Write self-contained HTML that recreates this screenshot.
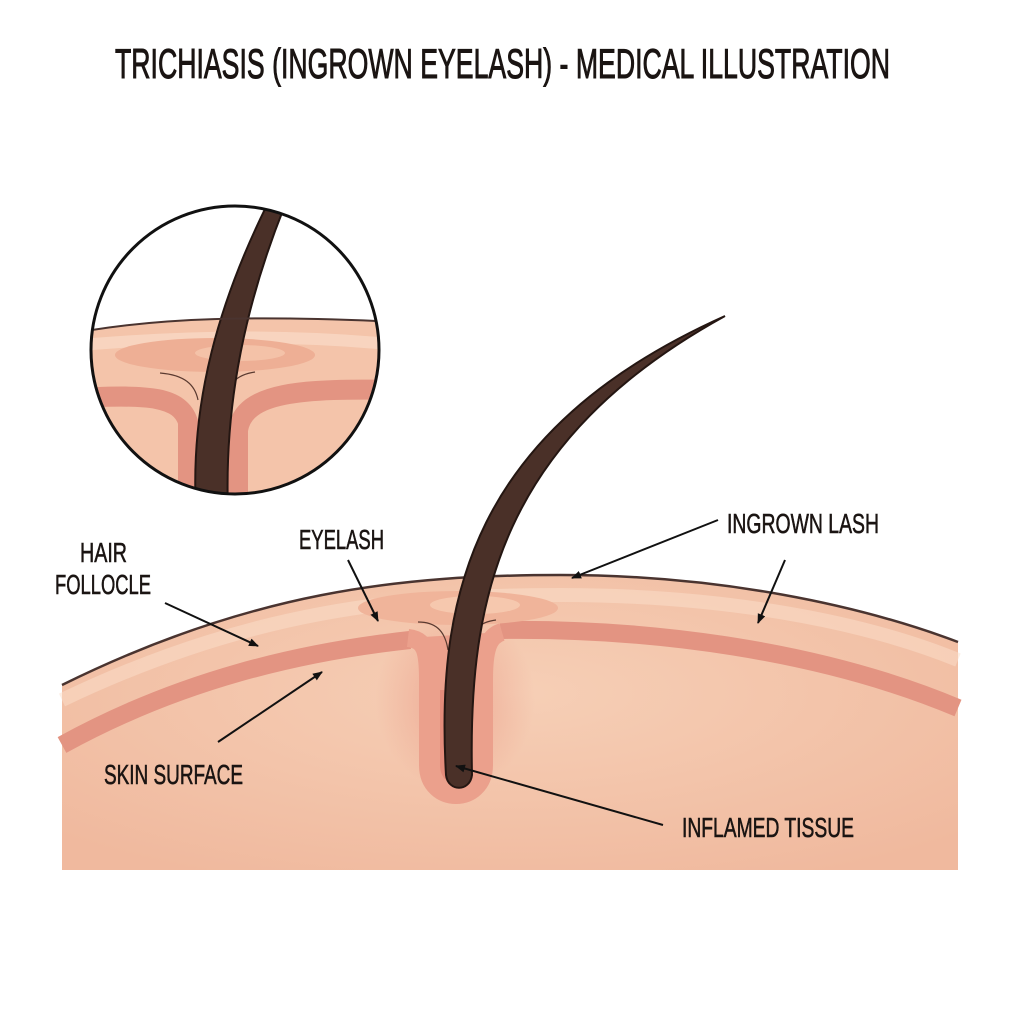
<!DOCTYPE html>
<html><head><meta charset="utf-8"><style>
html,body{margin:0;padding:0;background:#fff;}
svg{display:block;}
text{font-family:"Liberation Sans",sans-serif;fill:#1a1412;stroke:#1a1412;stroke-width:0.6;}
</style></head><body>
<svg width="1024" height="1024" viewBox="0 0 1024 1024" xmlns="http://www.w3.org/2000/svg">
<defs>
<radialGradient id="sk" cx="0.5" cy="0.4" r="0.7">
<stop offset="0" stop-color="#f6cfb6"/><stop offset="1" stop-color="#f0b99e"/>
</radialGradient>
<radialGradient id="inf" cx="0.5" cy="0.5" r="0.5">
<stop offset="0" stop-color="#e8907e" stop-opacity="0.6"/><stop offset="1" stop-color="#e8907e" stop-opacity="0"/>
</radialGradient>
<marker id="ah" markerWidth="10" markerHeight="10" refX="9" refY="5" orient="auto" markerUnits="userSpaceOnUse">
<path d="M0,1 L10,5 L0,9 Z" fill="#111"/>
</marker>
<clipPath id="cc"><circle cx="235" cy="350" r="144"/></clipPath>
</defs>

<text x="115" y="78" font-size="42" textLength="775" lengthAdjust="spacingAndGlyphs" style="stroke-width:1">TRICHIASIS (INGROWN EYELASH) - MEDICAL ILLUSTRATION</text>

<!-- main skin -->
<path d="M62,685 C250,592 400,575 560,575 C720,575 860,605 958,642 L958,870 L62,870 Z" fill="url(#sk)"/>
<path d="M62,700 C250,610 400,595 560,595 C720,595 860,620 958,660" fill="none" stroke="#fbe0cc" stroke-width="14" opacity="0.5"/>
<!-- dark band -->
<path d="M62,745 C180,680 300,652 410,640" fill="none" stroke="#e39482" stroke-width="18"/>
<path d="M500,630 C650,628 820,650 958,708" fill="none" stroke="#e39482" stroke-width="18"/>
<ellipse cx="455" cy="700" rx="80" ry="90" fill="url(#inf)"/>
<!-- follicle -->
<path d="M408,638 C425,640 428,650 428,680 L428,765 C428,805 484,805 484,765 L484,680 C484,650 488,636 502,632" fill="#eba08c" stroke="#eba08c" stroke-width="18" stroke-linejoin="round"/>
<path d="M440,690 L440,765 C440,790 472,790 472,765 L472,690 Z" fill="#e07e70" opacity="0.6"/>
<!-- bump -->
<ellipse cx="458" cy="608" rx="100" ry="17" fill="#f0b49a"/>
<ellipse cx="475" cy="605" rx="45" ry="9" fill="#f6c8ae"/>
<path d="M418,622 C435,622 445,630 448,650" fill="none" stroke="#5a3a30" stroke-width="1.2"/>
<path d="M496,620 C480,622 470,630 468,650" fill="none" stroke="#5a3a30" stroke-width="1.2"/>
<path d="M62,685 C250,592 400,575 560,575 C720,575 860,605 958,642" fill="none" stroke="#4a3430" stroke-width="2.5"/>
<!-- hair -->
<path d="M446,775 C436,600 470,430 725,316 C500,440 468,600 472,775 C470,792 448,792 446,775 Z" fill="#4a3028" stroke="#241612" stroke-width="2"/>

<!-- circle inset -->
<circle cx="235" cy="350" r="144" fill="#fff"/>
<g clip-path="url(#cc)">
<path d="M80,332 C160,318 250,315 400,322 L400,510 L80,510 Z" fill="#f4c4aa"/>
<path d="M80,345 C200,335 300,335 400,345" fill="none" stroke="#fadcc8" stroke-width="12" opacity="0.7"/>
<ellipse cx="215" cy="355" rx="100" ry="17" fill="#eeaf95"/>
<ellipse cx="240" cy="353" rx="45" ry="8" fill="#f4c2a8"/>
<path d="M80,398 C150,394 180,397 188,422 L188,510" fill="none" stroke="#e39482" stroke-width="20"/>
<path d="M400,390 C300,388 244,392 238,430 L238,510" fill="none" stroke="#e39482" stroke-width="20"/>
<path d="M160,373 C185,375 195,385 198,400" fill="none" stroke="#5a3a30" stroke-width="1.2"/>
<path d="M255,372 C235,375 228,385 226,400" fill="none" stroke="#5a3a30" stroke-width="1.2"/>
<path d="M196,510 C190,400 220,300 267,205 L285,205 C247,300 224,400 228,510 Z" fill="#4a3028" stroke="#241612" stroke-width="2"/>
<path d="M80,332 C160,318 250,315 400,322" fill="none" stroke="#4a3430" stroke-width="2"/>
</g>
<circle cx="235" cy="350" r="144" fill="none" stroke="#111" stroke-width="3"/>

<!-- labels -->
<g font-size="28">
<text x="80" y="562" textLength="47" lengthAdjust="spacingAndGlyphs">HAIR</text>
<text x="55" y="594" textLength="96" lengthAdjust="spacingAndGlyphs">FOLLOCLE</text>
<text x="299" y="549" textLength="85" lengthAdjust="spacingAndGlyphs">EYELASH</text>
<text x="727" y="533" textLength="152" lengthAdjust="spacingAndGlyphs">INGROWN LASH</text>
<text x="104" y="784" textLength="139" lengthAdjust="spacingAndGlyphs">SKIN SURFACE</text>
<text x="682" y="837" textLength="172" lengthAdjust="spacingAndGlyphs">INFLAMED TISSUE</text>
</g>
<g stroke="#111" stroke-width="2" fill="none" marker-end="url(#ah)">
<line x1="165" y1="603" x2="258" y2="646"/>
<line x1="348" y1="560" x2="378" y2="621"/>
<line x1="718" y1="520" x2="572" y2="578"/>
<line x1="785" y1="560" x2="758" y2="623"/>
<line x1="218" y1="742" x2="322" y2="672"/>
<line x1="663" y1="825" x2="456" y2="766"/>
</g>
</svg>
</body></html>
